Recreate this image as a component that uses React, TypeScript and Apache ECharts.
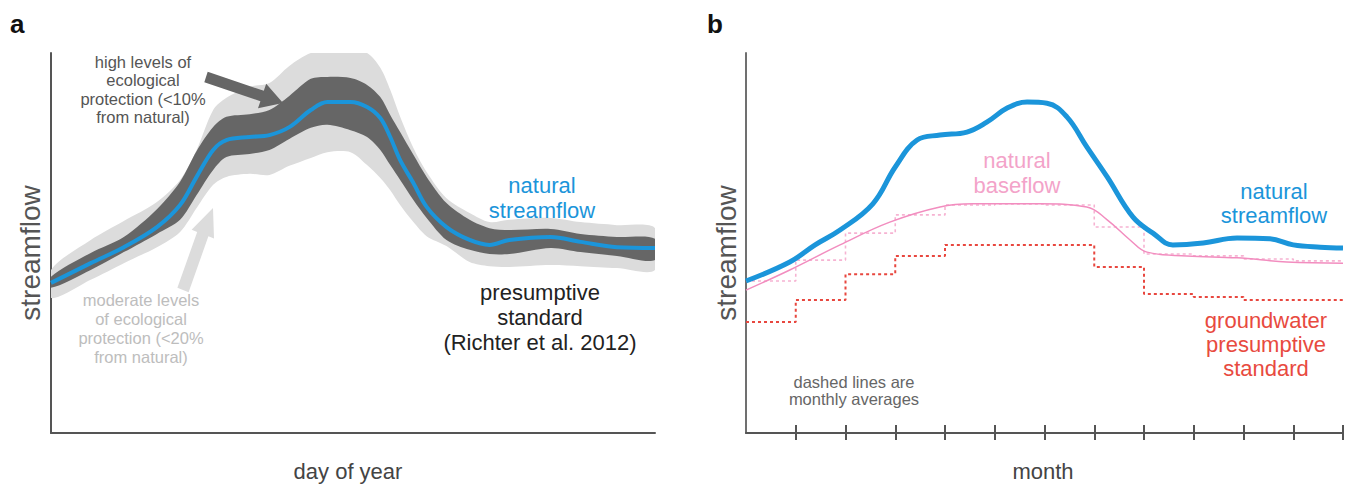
import React, { useEffect, useRef } from 'react';
import * as echarts from 'echarts';

// ---------- Panel a (day of year) ----------
const dayA = [0, 24, 44, 64, 78, 88, 98, 106, 120, 132, 144, 157, 167, 181, 191, 199, 205, 211, 219, 227, 239, 253, 265, 277, 302, 320, 342, 365];
const naturalA = [39.5, 44.7, 48.9, 54.2, 60.0, 67.4, 74.5, 77.1, 77.9, 78.4, 80.5, 85.0, 87.1, 87.1, 85.8, 82.9, 77.9, 71.8, 65.8, 59.5, 54.2, 50.8, 49.5, 50.8, 51.6, 50.3, 48.9, 48.7];
const highUpper = [41.1, 47.4, 51.6, 58.9, 66.1, 74.2, 80.5, 83.2, 83.9, 85.0, 88.7, 93.2, 93.7, 93.4, 91.6, 88.4, 83.7, 79.2, 73.2, 67.4, 60.5, 56.1, 53.9, 53.4, 53.7, 52.4, 51.6, 51.1];
const highLower = [38.2, 42.9, 47.6, 52.4, 56.1, 62.6, 69.2, 72.6, 73.4, 74.5, 77.4, 80.3, 81.1, 79.7, 77.9, 74.5, 70.5, 66.6, 61.3, 56.6, 50.8, 48.2, 47.1, 47.1, 48.7, 47.6, 46.6, 45.5];
const modUpper = [42.9, 50.8, 55.8, 60.8, 66.6, 74.5, 85.0, 88.2, 91.1, 92.1, 96.6, 100, 100, 100, 100, 96.1, 90.3, 83.2, 75.0, 68.7, 61.8, 57.9, 55.5, 56.1, 56.6, 55.5, 54.7, 53.9];
const modLower = [35.5, 40.3, 44.7, 48.9, 52.9, 59.2, 65.3, 67.4, 68.2, 67.9, 70.3, 72.4, 73.9, 73.9, 70.5, 67.1, 63.9, 60.0, 55.5, 51.8, 49.2, 45.0, 43.9, 43.7, 44.2, 43.9, 43.4, 42.9];

// ---------- Panel b (month) ----------
const monthB = [0, 0.88, 1.39, 1.89, 2.55, 3.0, 3.44, 3.9, 4.44, 4.84, 5.25, 5.65, 6.05, 6.45, 6.85, 7.26, 7.78, 8.18, 8.58, 9.19, 9.87, 10.53, 11.0, 11.54, 12];
const naturalB = [40.0, 45.0, 49.5, 53.4, 60.3, 70.0, 77.1, 78.4, 79.2, 81.8, 85.5, 87.1, 86.8, 83.2, 75.3, 67.4, 56.8, 52.6, 49.5, 50.0, 51.3, 51.1, 49.5, 48.9, 48.7];
const baseMonthB = [0, 0.88, 1.89, 2.89, 3.9, 4.56, 5.91, 6.85, 7.26, 7.72, 8.06, 8.86, 9.87, 10.87, 12];
const baseflowB = [37.6, 42.9, 49.5, 55.5, 59.5, 60.3, 60.3, 59.5, 56.1, 50.8, 47.6, 46.6, 46.1, 45.0, 44.7];
const monthStarts = [0, 1, 2, 3, 4, 5, 6, 7, 8, 9, 10, 11];
const baseflowMonthly = [40.0, 45.5, 52.6, 57.4, 60.0, 60.3, 60.0, 54.2, 47.1, 46.6, 45.8, 45.3];
const groundwaterStd = [29.2, 35.0, 41.8, 46.6, 49.5, 49.5, 49.5, 43.7, 36.6, 35.8, 35.0, 35.0];
const monthTicks = [1, 2, 3, 4, 5, 6, 7, 8, 9, 10, 11, 12];

const FONT = '"Liberation Sans", Arial, Helvetica, sans-serif';
const BLUE = '#1b95da';
const AXIS = '#555555';

const stepData = (vals: number[]) =>
  monthStarts.map((m, i) => [m, vals[i]]).concat([[12, vals[vals.length - 1]]]);

const band = (upper: number[], lower: number[], color: string) => ({
  type: 'custom',
  xAxisIndex: 0,
  yAxisIndex: 0,
  clip: true,
  silent: true,
  data: [[dayA[0], lower[0]]],
  encode: { x: 0, y: 1 },
  renderItem: (_params: any, api: any) => {
    const pts: number[][] = [];
    dayA.forEach((d, i) => pts.push(api.coord([d, upper[i]])));
    for (let i = dayA.length - 1; i >= 0; i--) pts.push(api.coord([dayA[i], lower[i]]));
    return { type: 'polygon', shape: { points: pts, smooth: 0.3 }, style: { fill: color } };
  },
});

const txt = (text: string, x: number, y: number, size: number, color: string, extra: any = {}) => ({
  type: 'text',
  x,
  y,
  z: 100,
  silent: true,
  rotation: extra.rotation || 0,
  style: {
    text,
    fill: color,
    fontSize: size,
    fontFamily: FONT,
    fontWeight: extra.weight || 'normal',
    align: extra.align || 'center',
    verticalAlign: 'middle',
    lineHeight: extra.lineHeight || size * 1.15,
  },
});

const axisCommon = {
  axisLine: { show: true, onZero: false, lineStyle: { color: AXIS, width: 2 } },
  axisTick: { show: false },
  axisLabel: { show: false },
  splitLine: { show: false },
};

export default function App() {
  const ref = useRef<HTMLDivElement>(null);
  useEffect(() => {
    const chart = echarts.init(ref.current!, null, { renderer: 'svg' });
    const option: any = {
      animation: false,
      backgroundColor: '#ffffff',
      grid: [
        { left: 51, top: 53, width: 604, height: 380 },
        { left: 746, top: 53, width: 597, height: 380 },
      ],
      xAxis: [
        { gridIndex: 0, type: 'value', min: 0, max: 365, position: 'bottom', ...axisCommon },
        {
          gridIndex: 1, type: 'value', min: 0, max: 12, interval: 1, position: 'bottom',
          ...axisCommon,
          axisTick: { show: true, inside: true, length: 8, customValues: monthTicks, lineStyle: { color: AXIS, width: 2 } },
        },
        {
          gridIndex: 1, type: 'value', min: 0, max: 12, interval: 1, position: 'bottom',
          ...axisCommon,
          axisLine: { show: false, onZero: false },
          axisTick: { show: true, inside: false, length: 7, customValues: monthTicks, lineStyle: { color: AXIS, width: 2 } },
        },
      ],
      yAxis: [
        { gridIndex: 0, type: 'value', min: 0, max: 100, ...axisCommon },
        { gridIndex: 1, type: 'value', min: 0, max: 100, ...axisCommon, axisLine: { show: true, onZero: false, lineStyle: { color: '#707070', width: 2 } } },
      ],
      series: [
        band(modUpper, modLower, '#dcdcdc'),
        band(highUpper, highLower, '#666666'),
        {
          type: 'line', xAxisIndex: 0, yAxisIndex: 0, data: dayA.map((d, i) => [d, naturalA[i]]),
          smooth: 0.35, symbol: 'none', silent: true, lineStyle: { color: BLUE, width: 4 }, z: 5,
        },
        {
          type: 'line', xAxisIndex: 1, yAxisIndex: 1, data: stepData(groundwaterStd), step: 'end',
          symbol: 'none', silent: true, lineStyle: { color: '#e8473f', width: 2, type: [3, 3] },
        },
        {
          type: 'line', xAxisIndex: 1, yAxisIndex: 1, data: stepData(baseflowMonthly), step: 'end',
          symbol: 'none', silent: true, lineStyle: { color: '#f6b3d2', width: 1.6, type: [3, 3] },
        },
        {
          type: 'line', xAxisIndex: 1, yAxisIndex: 1, data: baseMonthB.map((m, i) => [m, baseflowB[i]]),
          smooth: 0.4, symbol: 'none', silent: true, lineStyle: { color: '#f28dbf', width: 1.5 },
        },
        {
          type: 'line', xAxisIndex: 1, yAxisIndex: 1, data: monthB.map((m, i) => [m, naturalB[i]]),
          smooth: 0.4, symbol: 'none', silent: true, lineStyle: { color: BLUE, width: 5 }, z: 5,
        },
      ],
      graphic: [
        // arrows (annotations)
        {
          type: 'polygon', z: 90, silent: true,
          shape: { points: [[204.3, 82.2], [207.7, 71.8], [263.8, 90.8], [266.2, 83.7], [283, 103], [258.0, 108.3], [260.4, 101.2]] },
          style: { fill: '#666666' },
        },
        {
          type: 'polygon', z: 90, silent: true,
          shape: { points: [[177.4, 287.8], [188.6, 292.2], [208.4, 236.3], [214.0, 238.5], [213, 208], [191.6, 229.7], [197.2, 231.9]] },
          style: { fill: '#dcdcdc' },
        },
        // panel a texts
        txt('a', 10, 24, 26, '#111111', { weight: 'bold', align: 'left' }),
        txt('streamflow', 30, 253, 28, '#555555', { rotation: Math.PI / 2 }),
        txt('day of year', 348, 471, 22, '#444444'),
        txt('high levels of\necological\nprotection (<10%\nfrom natural)', 143, 89.5, 16.5, '#555555', { lineHeight: 18.5 }),
        txt('moderate levels\nof ecological\nprotection (<20%\nfrom natural)', 141, 328.5, 16.5, '#bdbdbd', { lineHeight: 19 }),
        txt('natural\nstreamflow', 542, 197.5, 22, BLUE, { lineHeight: 25 }),
        txt('presumptive\nstandard\n(Richter et al. 2012)', 540, 317, 22, '#222222', { lineHeight: 25 }),
        // panel b texts
        txt('b', 707, 24, 26, '#111111', { weight: 'bold', align: 'left' }),
        txt('streamflow', 726, 253, 28, '#555555', { rotation: Math.PI / 2 }),
        txt('month', 1043, 471, 22, '#444444'),
        txt('natural\nbaseflow', 1017, 172.5, 22, '#f3a3c9', { lineHeight: 25 }),
        txt('natural\nstreamflow', 1274, 203.5, 22, BLUE, { lineHeight: 24 }),
        txt('groundwater\npresumptive\nstandard', 1266, 344, 22, '#e84a40', { lineHeight: 24 }),
        txt('dashed lines are\nmonthly averages', 854, 390.5, 16.5, '#666666', { lineHeight: 17.5 }),
      ],
    };
    chart.setOption(option);
    return () => chart.dispose();
  }, []);
  return (
    <div
      ref={ref}
      style={{ position: 'absolute', left: 0, top: 0, width: 1352, height: 487, background: '#ffffff' }}
    />
  );
}
